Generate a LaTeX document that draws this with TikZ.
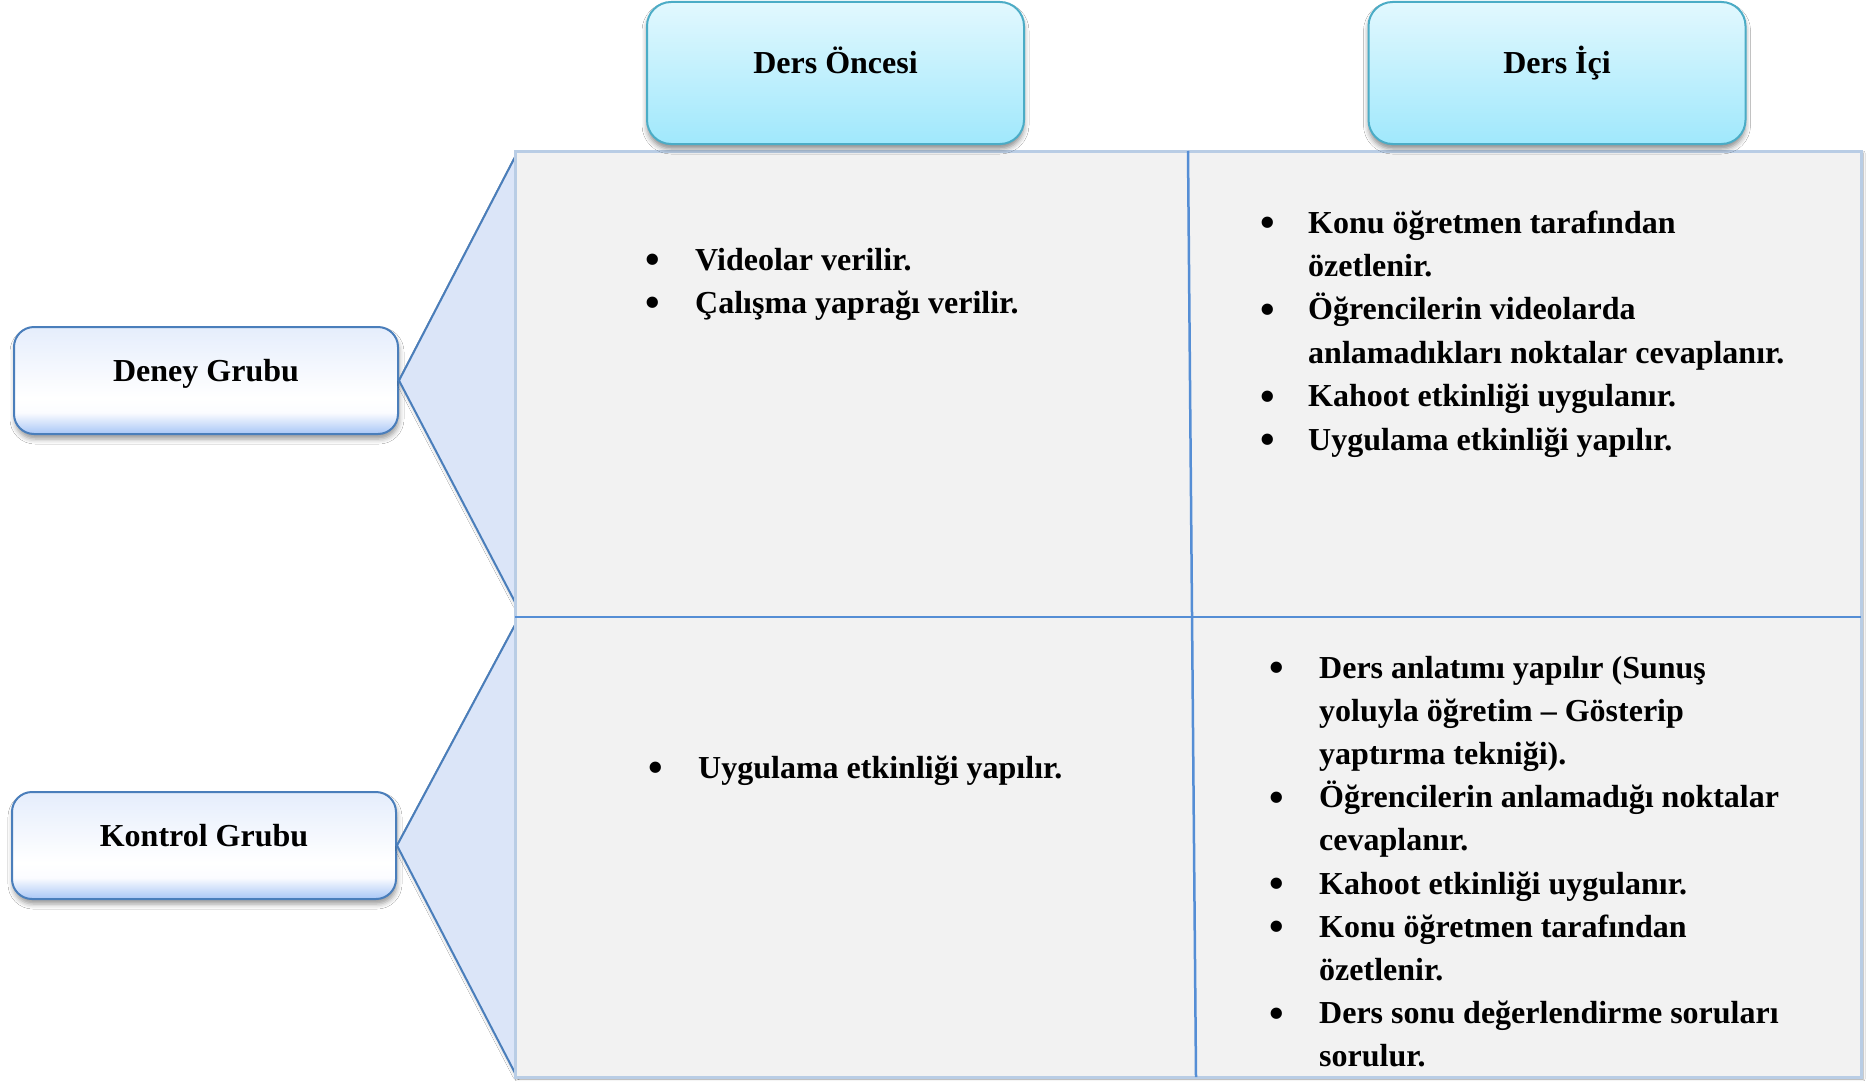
\documentclass[tikz,border=0pt]{standalone}
\usepackage{fontspec}
\setmainfont{Liberation Serif}
\usetikzlibrary{shadows,shadows.blur}
\definecolor{hdrtop}{HTML}{E2F8FE}
\definecolor{hdrbot}{HTML}{A0E8FC}
\definecolor{hdrline}{HTML}{4BACC6}
\definecolor{grptop}{HTML}{E5EDFC}
\definecolor{grpmid}{HTML}{FBFCFF}
\definecolor{grpbot}{HTML}{A8C6F6}
\definecolor{grpline}{HTML}{4A7EBB}
\definecolor{callfill}{HTML}{DBE5F8}
\definecolor{tblfill}{HTML}{F2F2F2}
\definecolor{tblline}{HTML}{B9CDE5}
\definecolor{divline}{HTML}{558ED5}
\pgfdeclareverticalshading{grpshade}{100bp}{color(0bp)=(grpbot); color(25bp)=(grpbot); color(35bp)=(grpmid); color(42bp)=(white); color(75bp)=(grptop); color(100bp)=(grptop)}
\newcommand\cellfont{\fontsize{32}{38}\selectfont\bfseries}
\newcommand\bulmark[1]{\llap{\raisebox{-3.5pt}{\scalebox{1.3}{\textbullet}}\hspace{#1pt}}}
\tikzset{
  hdr/.style={draw=hdrline, line width=2pt, rounded corners=24pt, top color=hdrtop, bottom color=hdrbot,
    minimum width=377pt, minimum height=142pt, text height=22pt, text depth=20pt, inner sep=0pt, font=\cellfont,
    blur shadow={shadow xshift=0pt, shadow yshift=-5pt, shadow blur radius=5pt, shadow opacity=45}},
  grp/.style={draw=grpline, line width=2pt, rounded corners=20pt, shading=grpshade,
    minimum width=384pt, minimum height=107pt, text height=22pt, text depth=20pt, inner sep=0pt, font=\cellfont,
    blur shadow={shadow xshift=1pt, shadow yshift=-5pt, shadow blur radius=5pt, shadow opacity=40}},
  ln/.style={anchor=base west, inner sep=0pt, font=\cellfont},
  callout/.style={fill=callfill, blur shadow={shadow xshift=2pt, shadow yshift=-3pt, shadow blur radius=4pt, shadow opacity=35}},
  calledge/.style={draw=grpline, line width=2pt, line join=miter},
  divider/.style={draw=divline, line width=2.5pt},
}
\begin{document}
\begin{tikzpicture}[x=1pt,y=-1pt]
\useasboundingbox (0,0) rectangle (1870,1081);
\fill[white] (0,0) rectangle (1870,1081);

% group boxes
\node[grp] (deney) at (206,380.5) {Deney Grubu};
\node[grp] (kontrol) at (204,845.5) {Kontrol Grubu};

% anchor points on the table's left side
\coordinate (ua) at (515,157);
\coordinate (ub) at (515,602);
\coordinate (la) at (515,625);
\coordinate (lb) at (515,1073);

% callouts
\path[callout] (deney.east) -- (ua) -- (ub) -- cycle;
\path[callout] (kontrol.east) -- (la) -- (lb) -- cycle;
\draw[calledge] (ua) -- (deney.east) -- (ub);
\draw[calledge] (la) -- (kontrol.east) -- (lb);

% table
\path[fill=tblfill, blur shadow={shadow xshift=2pt, shadow yshift=-2pt, shadow blur radius=2pt, shadow opacity=40}] (515,151) rectangle (1861,1077);
\draw[tblline, line width=3pt] (515,151) rectangle (1861,1077);
\draw[divider] (515,617) -- (1861,617);
\draw[divider] (1188,151) -- (1196,1077);

% headers
\node[hdr] (pre) at (835.5,73) {Ders Öncesi};
\node[hdr] (cur) at (1557,73) {Ders İçi};

% top-left cell
\node[ln] (a1) at (695,270) {\bulmark{34.7}Videolar verilir.};
\node[ln] (a2) at (695,313) {\bulmark{34.7}Çalışma yaprağı verilir.};

% top-right cell
\node[ln] (b1) at (1308,233) {\bulmark{32.7}Konu öğretmen tarafından};
\node[ln] (b2) at (1308,276.4) {özetlenir.};
\node[ln] (b3) at (1308,319.8) {\bulmark{32.7}Öğrencilerin videolarda};
\node[ln] (b4) at (1308,363.2) {anlamadıkları noktalar cevaplanır.};
\node[ln] (b5) at (1308,406.6) {\bulmark{32.7}Kahoot etkinliği uygulanır.};
\node[ln] (b6) at (1308,450) {\bulmark{32.7}Uygulama etkinliği yapılır.};

% bottom-left cell
\node[ln] (c1) at (698,778) {\bulmark{34.7}Uygulama etkinliği yapılır.};

% bottom-right cell
\node[ln] (d1) at (1319,678) {\bulmark{34.7}Ders anlatımı yapılır (Sunuş};
\node[ln] (d2) at (1319,721.2) {yoluyla öğretim – Gösterip};
\node[ln] (d3) at (1319,764.4) {yaptırma tekniği).};
\node[ln] (d4) at (1319,807.6) {\bulmark{34.7}Öğrencilerin anlamadığı noktalar};
\node[ln] (d5) at (1319,850.8) {cevaplanır.};
\node[ln] (d6) at (1319,894) {\bulmark{34.7}Kahoot etkinliği uygulanır.};
\node[ln] (d7) at (1319,937.2) {\bulmark{34.7}Konu öğretmen tarafından};
\node[ln] (d8) at (1319,980.4) {özetlenir.};
\node[ln] (d9) at (1319,1023.6) {\bulmark{34.7}Ders sonu değerlendirme soruları};
\node[ln] (d10) at (1319,1066.8) {sorulur.};
\end{tikzpicture}
\end{document}
